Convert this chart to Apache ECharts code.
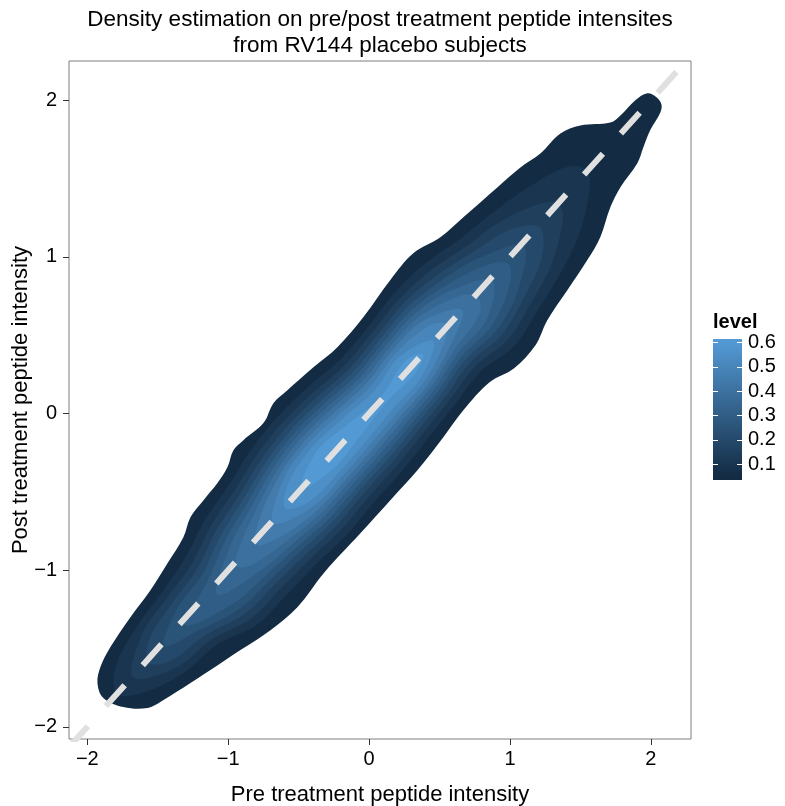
<!DOCTYPE html>
<html>
<head>
<meta charset="utf-8">
<script src="https://cdn.jsdelivr.net/npm/echarts@6/dist/echarts.min.js"></script>
<style>
html,body{margin:0;padding:0;background:#fff;}
#chart{width:785px;height:806px;}
</style>
</head>
<body>
<div id="chart"></div>
<script>
// ---- data ----
const titleLines = ['Density estimation on pre/post treatment peptide intensites', 'from RV144 placebo subjects'];
const xName = 'Pre treatment peptide intensity';
const yName = 'Post treatment peptide intensity';
const xTicks = [-2, -1, 0, 1, 2];
const yTicks = [-2, -1, 0, 1, 2];
const legendBreaks = [0.1, 0.2, 0.3, 0.4, 0.5, 0.6];
const levelRange = [0.05, 0.6];
const levels = [0.05, 0.10, 0.15, 0.20, 0.25, 0.30, 0.35, 0.40, 0.45, 0.50, 0.55, 0.60];
const identityLine = [[-2.2, -2.2], [2.3, 2.3]];

// contour polygons (pre, post) for each density level
const contour_005 = [[1.975,2.045],[2.04,2.02],[2.075,1.975],[2.068,1.924],[1.996,1.81],[1.947,1.70],[1.904,1.598],[1.784,1.445],[1.713,1.318],[1.641,1.126],[1.549,0.98],[1.407,0.787],[1.265,0.596],[1.181,0.436],[1.03,0.29],[0.855,0.2],[0.669,0.021],[0.527,-0.151],[0.343,-0.362],[0.151,-0.553],[-0.062,-0.765],[-0.322,-1.019],[-0.509,-1.236],[-0.70,-1.383],[-0.913,-1.51],[-1.126,-1.638],[-1.268,-1.721],[-1.459,-1.829],[-1.573,-1.88],[-1.744,-1.874],[-1.886,-1.816],[-1.928,-1.72],[-1.907,-1.618],[-1.836,-1.491],[-1.694,-1.30],[-1.552,-1.128],[-1.431,-0.956],[-1.318,-0.79],[-1.268,-0.662],[-1.175,-0.553],[-1.076,-0.444],[-1.005,-0.342],[-0.963,-0.234],[-0.892,-0.17],[-0.75,-0.061],[-0.679,0.066],[-0.58,0.149],[-0.395,0.296],[-0.225,0.424],[-0.04,0.616],[0.151,0.853],[0.314,1.023],[0.506,1.125],[0.669,1.253],[0.91,1.444],[1.074,1.571],[1.216,1.66],[1.358,1.788],[1.50,1.839],[1.713,1.858],[1.784,1.903],[1.89,2.0]];
const contour_010 = [[-1.79,-1.79],[-1.800,-1.619],[-1.658,-1.372],[-1.482,-1.153],[-1.311,-0.930],[-1.169,-0.683],[-0.998,-0.459],[-0.836,-0.228],[-0.648,-0.019],[-0.433,0.169],[-0.204,0.346],[-0.010,0.551],[0.173,0.764],[0.389,0.952],[0.639,1.111],[0.875,1.282],[1.125,1.442],[1.407,1.576],[1.539,1.559],[1.567,1.446],[1.491,1.145],[1.357,0.892],[1.198,0.659],[1.032,0.431],[0.790,0.266],[0.605,0.053],[0.419,-0.158],[0.233,-0.369],[0.032,-0.569],[-0.159,-0.776],[-0.376,-0.962],[-0.584,-1.156],[-0.794,-1.347],[-1.081,-1.477],[-1.310,-1.653],[-1.600,-1.781]];
const contour_015 = [[-1.675,-1.684],[-1.611,-1.410],[-1.441,-1.186],[-1.265,-0.967],[-1.124,-0.719],[-0.956,-0.493],[-0.795,-0.261],[-0.608,-0.051],[-0.394,0.137],[-0.166,0.315],[0.026,0.522],[0.213,0.732],[0.437,0.913],[0.691,1.069],[0.939,1.230],[1.240,1.348],[1.348,1.334],[1.376,1.239],[1.292,0.945],[1.146,0.701],[0.984,0.470],[0.750,0.298],[0.569,0.083],[0.382,-0.128],[0.194,-0.337],[-0.007,-0.537],[-0.200,-0.743],[-0.418,-0.928],[-0.629,-1.119],[-0.840,-1.310],[-1.122,-1.444],[-1.357,-1.616]];
const contour_020 = [[-1.564,-1.593],[-1.563,-1.449],[-1.403,-1.216],[-1.225,-0.999],[-1.086,-0.749],[-0.922,-0.521],[-0.762,-0.288],[-0.577,-0.076],[-0.362,0.112],[-0.136,0.291],[0.055,0.498],[0.246,0.705],[0.478,0.880],[0.738,1.031],[1.006,1.176],[1.213,1.189],[1.226,0.998],[1.099,0.739],[0.943,0.503],[0.717,0.325],[0.540,0.106],[0.352,-0.104],[0.162,-0.312],[-0.039,-0.511],[-0.232,-0.716],[-0.452,-0.901],[-0.666,-1.089],[-0.880,-1.278],[-1.160,-1.414],[-1.405,-1.577]];
const contour_025 = [[-1.454,-1.483],[-1.363,-1.249],[-1.186,-1.030],[-1.052,-0.777],[-0.891,-0.545],[-0.734,-0.311],[-0.550,-0.098],[-0.334,0.090],[-0.110,0.270],[0.080,0.478],[0.275,0.682],[0.515,0.850],[0.784,0.994],[1.096,1.067],[1.053,0.776],[0.906,0.533],[0.688,0.348],[0.514,0.127],[0.325,-0.082],[0.134,-0.290],[-0.066,-0.489],[-0.261,-0.693],[-0.482,-0.876],[-0.700,-1.061],[-0.919,-1.246],[-1.200,-1.381]];
const contour_030 = [[-1.304,-1.351],[-1.143,-1.065],[-1.018,-0.805],[-0.862,-0.569],[-0.708,-0.332],[-0.525,-0.118],[-0.310,0.070],[-0.086,0.250],[0.103,0.459],[0.301,0.661],[0.551,0.821],[0.840,0.949],[0.988,0.955],[0.997,0.821],[0.871,0.562],[0.662,0.369],[0.492,0.145],[0.302,-0.063],[0.110,-0.270],[-0.090,-0.470],[-0.287,-0.673],[-0.512,-0.852],[-0.735,-1.034],[-0.962,-1.212]];
const contour_035 = [[-1.078,-1.154],[-0.980,-0.835],[-0.834,-0.592],[-0.683,-0.352],[-0.502,-0.137],[-0.286,0.051],[-0.063,0.232],[0.125,0.442],[0.328,0.639],[0.590,0.789],[0.876,0.847],[0.831,0.594],[0.635,0.391],[0.470,0.163],[0.279,-0.045],[0.086,-0.251],[-0.114,-0.450],[-0.312,-0.652],[-0.540,-0.829],[-0.772,-1.003]];
const contour_040 = [[-0.939,-0.977],[-0.930,-0.876],[-0.802,-0.617],[-0.658,-0.372],[-0.479,-0.155],[-0.263,0.032],[-0.040,0.214],[0.146,0.424],[0.355,0.617],[0.639,0.749],[0.771,0.751],[0.782,0.634],[0.608,0.412],[0.448,0.180],[0.256,-0.026],[0.063,-0.232],[-0.137,-0.432],[-0.336,-0.632],[-0.571,-0.804],[-0.823,-0.962]];
const contour_045 = [[-0.802,-0.835],[-0.767,-0.646],[-0.633,-0.392],[-0.456,-0.174],[-0.239,0.013],[-0.017,0.194],[0.168,0.407],[0.385,0.593],[0.66,0.66],[0.578,0.437],[0.427,0.198],[0.233,-0.007],[0.039,-0.213],[-0.160,-0.414],[-0.362,-0.612],[-0.607,-0.775]];
const contour_050 = [[-0.679,-0.699],[-0.605,-0.415],[-0.432,-0.193],[-0.214,-0.008],[0.009,0.174],[0.192,0.388],[0.424,0.561],[0.544,0.573],[0.539,0.468],[0.403,0.217],[0.207,0.013],[0.014,-0.192],[-0.184,-0.394],[-0.390,-0.589]];
const contour_055 = [[-0.595,-0.604],[-0.572,-0.442],[-0.405,-0.215],[-0.186,-0.031],[0.039,0.149],[0.219,0.366],[0.455,0.464],[0.376,0.239],[0.177,0.038],[-0.014,-0.169],[-0.211,-0.372],[-0.423,-0.562]];
const contour_060 = [[-0.48,-0.48],[-0.372,-0.242],[-0.145,-0.064],[0.087,0.111],[0.256,0.335],[0.38,0.38],[0.339,0.269],[0.129,0.077],[-0.055,-0.136],[-0.244,-0.345]];
const contours = [contour_005, contour_010, contour_015, contour_020, contour_025, contour_030, contour_035, contour_040, contour_045, contour_050, contour_055, contour_060];

// ---- chart ----
const lowColor = '#132B43', highColor = '#5399D4';
const FONT = '"Liberation Sans", Arial, Helvetica, sans-serif';
const minus = v => String(v).replace('-', '\u2212');
const chart = echarts.init(document.getElementById('chart'), null, {renderer: 'canvas'});

chart.setOption({
  backgroundColor: '#ffffff',
  animation: false,
  textStyle: {fontFamily: FONT},
  title: {
    text: titleLines.join('\n'),
    left: 380, top: 7, padding: 0, textAlign: 'center',
    textStyle: {fontFamily: FONT, fontSize: 22.5, fontWeight: 'normal', color: '#000', lineHeight: 26}
  },
  visualMap: [{
    type: 'continuous', show: false, seriesIndex: 0, dimension: 0,
    min: levelRange[0], max: levelRange[1],
    inRange: {color: [lowColor, highColor]}
  }],
  grid: [
    {left: 69, top: 61, right: 94, bottom: 67, show: true, borderColor: '#7f7f7f', borderWidth: 1, backgroundColor: '#fff', containLabel: false, outerBoundsMode: 'none'},
    {left: 713, top: 339, width: 29, height: 141, show: false, containLabel: false, outerBoundsMode: 'none'}
  ],
  xAxis: [
    {
      type: 'value', gridIndex: 0, min: -2.13, max: 2.285,
      name: xName, nameLocation: 'middle', nameGap: 45, nameMoveOverlap: false,
      nameTextStyle: {fontFamily: FONT, fontSize: 22, color: '#000'},
      axisLine: {show: false, onZero: false},
      axisTick: {show: true, length: 6, lineStyle: {color: '#333', width: 1}, customValues: xTicks},
      axisLabel: {show: true, fontSize: 20, color: '#000', margin: 10, fontFamily: FONT, customValues: xTicks, formatter: minus},
      splitLine: {show: false}
    },
    {type: 'value', gridIndex: 1, min: 0, max: 1, show: false}
  ],
  yAxis: [
    {
      type: 'value', gridIndex: 0, min: -2.078, max: 2.251,
      name: yName, nameLocation: 'middle', nameGap: 37, nameRotate: 90, nameMoveOverlap: false,
      nameTextStyle: {fontFamily: FONT, fontSize: 22, color: '#000'},
      axisLine: {show: false, onZero: false},
      axisTick: {show: true, length: 6, lineStyle: {color: '#333', width: 1}, customValues: yTicks},
      axisLabel: {show: true, fontSize: 20, color: '#000', margin: 12, fontFamily: FONT, customValues: yTicks, formatter: minus},
      splitLine: {show: false}
    },
    {
      type: 'value', gridIndex: 1, position: 'left', min: 0.0355, max: 0.6145, z: 10,
      axisLine: {show: false, onZero: false}, splitLine: {show: false},
      axisTick: {show: true, inside: true, length: 5, lineStyle: {color: '#ffffff', width: 1}, customValues: legendBreaks},
      axisLabel: {show: false}
    },
    {
      type: 'value', gridIndex: 1, position: 'right', min: 0.0355, max: 0.6145, z: 10,
      name: 'level', nameLocation: 'end', nameGap: 6,
      nameTextStyle: {fontFamily: FONT, fontSize: 20, fontWeight: 'bold', color: '#000', align: 'left', padding: [0, 0, 0, -29]},
      axisLine: {show: false, onZero: false}, splitLine: {show: false},
      axisTick: {show: true, inside: true, length: 5, lineStyle: {color: '#ffffff', width: 1}, customValues: legendBreaks},
      axisLabel: {show: true, fontSize: 20, color: '#000', margin: 6, fontFamily: FONT, customValues: legendBreaks, formatter: v => v.toFixed(1)}
    }
  ],
  series: [
    {
      type: 'custom', name: 'density', coordinateSystem: 'cartesian2d', xAxisIndex: 0, yAxisIndex: 0,
      data: levels.map((lv, i) => [lv, i]),
      encode: {x: -1, y: -1},
      silent: true, z: 2,
      renderItem: function (params, api) {
        const poly = contours[params.dataIndex];
        const pts = poly.map(p => api.coord(p));
        return {type: 'polygon', shape: {points: pts, smooth: 0.35}, style: {fill: api.visual('color'), stroke: null}};
      }
    },
    {
      type: 'line', name: 'identity', xAxisIndex: 0, yAxisIndex: 0,
      data: identityLine, showSymbol: false, symbol: 'none', silent: true, z: 5, clip: true,
      lineStyle: {color: '#e0e0e0', width: 6, type: [28, 27], dashOffset: 40, cap: 'butt'}
    },
    {
      type: 'custom', name: 'colorbar', coordinateSystem: 'cartesian2d', xAxisIndex: 1, yAxisIndex: 1,
      data: [[0, levelRange[0]], [1, levelRange[1]]],
      silent: true, z: 1,
      renderItem: function (params, api) {
        if (params.dataIndex !== 0) return null;
        const cs = params.coordSys;
        const pLow = api.coord([0, levelRange[0]])[1];
        const pHigh = api.coord([0, levelRange[1]])[1];
        const sHigh = (pHigh - cs.y) / cs.height;
        const sLow = (pLow - cs.y) / cs.height;
        return {
          type: 'rect', shape: {x: cs.x, y: cs.y, width: cs.width, height: cs.height},
          style: {fill: new echarts.graphic.LinearGradient(0, 0, 0, 1, [
            {offset: 0, color: highColor}, {offset: sHigh, color: highColor},
            {offset: sLow, color: lowColor}, {offset: 1, color: lowColor}
          ])}
        };
      }
    }
  ]
});
</script>
</body>
</html>
